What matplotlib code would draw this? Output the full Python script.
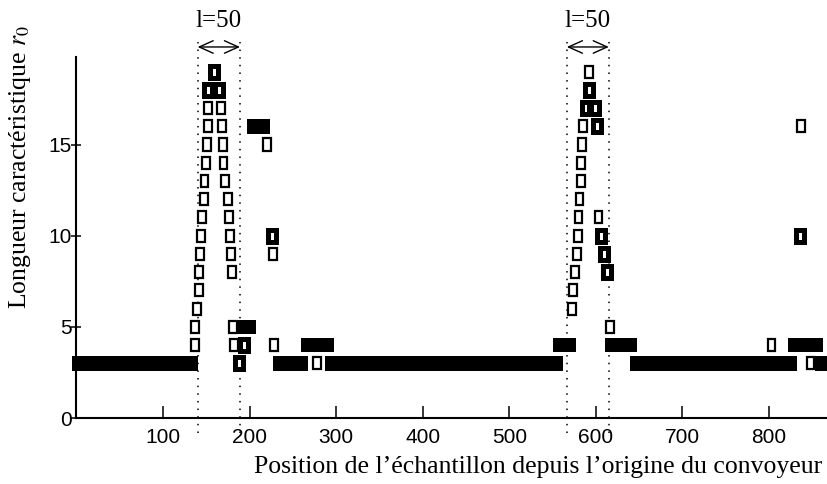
import matplotlib
matplotlib.use('Agg')
import matplotlib.pyplot as plt
from matplotlib import font_manager as fm
import numpy as np

plt.rcParams['mathtext.fontset'] = 'stix'

# filled runs of consecutive samples (r0 level, start, end)
run_r0 = [3, 3, 3, 3, 3, 4, 4, 4, 4, 5, 16]
run_start = [-5, 227, 287, 639, 853, 259, 551, 611, 822, 185, 197]
run_end = [140, 267, 562, 832, 870, 298, 577, 648, 862, 207, 224]

# single open boxes
open_x = [137, 137, 139, 141.6, 141.6, 143, 144, 145, 147, 148, 150, 151, 152, 152,
          179.7, 178.5, 177, 176, 175, 172, 170, 169, 168, 167,
          220, 227, 181, 182, 228, 278,
          572, 574, 575.5, 578, 579, 580, 581, 583, 583, 584, 585, 592.5,
          603, 616, 803, 848, 837]
open_r0 = [4, 5, 6, 7, 8, 9, 10, 11, 12, 13, 14, 15, 16, 17,
           8, 9, 10, 11, 12, 13, 14, 15, 16, 17,
           15, 9, 5, 4, 4, 3,
           6, 7, 8, 9, 10, 11, 12, 13, 14, 15, 16, 19,
           11, 5, 4, 3, 16]

# dark (thick) boxes
dark_x = [152, 165, 159, 226, 193.5, 188, 588, 599, 592, 601, 606, 609, 613, 836]
dark_r0 = [18, 18, 19, 10, 4, 3, 17, 17, 18, 16, 10, 9, 8, 10]

# windows of width l=50
win_left = [140, 566.5]
win_right = [189, 615]
win_label = ['l=50', 'l=50']

xticks = [100, 200, 300, 400, 500, 600, 700, 800]
yticks = [0, 5, 10, 15]

names = {f.name for f in fm.fontManager.ttflist}
tick_font = 'Liberation Sans Narrow' if 'Liberation Sans Narrow' in names else 'Liberation Sans'
serif = 'Liberation Serif'

W, H = 827, 484
fig = plt.figure(figsize=(W / 100, H / 100), dpi=100)
ax = fig.add_axes([76.4 / W, 1 - 418 / H, 1 - 76.4 / W, 361 / H])
ax.set_xlim(0, 867)
ax.set_ylim(0, 19.8)

for s in ['top', 'right']:
    ax.spines[s].set_visible(False)
for s in ['left', 'bottom']:
    ax.spines[s].set_linewidth(1.5)

box_w, box_h, run_h = 9.0, 0.66, 0.8

ax.barh(run_r0, np.array(run_end) - np.array(run_start), left=run_start,
        height=run_h, color='black', linewidth=0, clip_on=False, zorder=3)
ax.bar(open_x, box_h, width=box_w, bottom=np.array(open_r0) - box_h / 2,
       color='white', edgecolor='black', linewidth=1.6, zorder=4)
ax.bar(dark_x, box_h, width=box_w, bottom=np.array(dark_r0) - box_h / 2,
       color='white', edgecolor='black', linewidth=3.6, zorder=4)

for xl, xr, lab in zip(win_left, win_right, win_label):
    for xv in (xl, xr):
        ax.plot([xv, xv], [-0.85, 20.6], ls=(0, (1, 4)), color='black',
                lw=1.1, clip_on=False, zorder=2)
    ax.annotate('', xy=(xr, 20.35), xytext=(xl, 20.35), annotation_clip=False,
                arrowprops=dict(arrowstyle='<->,head_length=10,head_width=4.5',
                                mutation_scale=1, lw=1, color='black',
                                shrinkA=0, shrinkB=0))
    ax.text((xl + xr) / 2, 21.75, lab, ha='center', va='center',
            fontsize=18, family=serif, clip_on=False)

ax.set_xticks(xticks)
ax.set_yticks(yticks)
ax.tick_params(axis='x', direction='in', length=9, width=1.1, pad=7.5, labelsize=15)
ax.tick_params(axis='y', direction='inout', length=7, width=1.1, pad=0, labelsize=15)
for lab in ax.get_xticklabels() + ax.get_yticklabels():
    lab.set_family(tick_font)

fig.text(20 / W, 1 - 167 / H, 'Longueur caractéristique $r_0$', rotation=90,
         ha='center', va='center', fontsize=18.5, family=serif)
fig.text(822 / W, 1 - 467 / H, 'Position de l’échantillon depuis l’origine du convoyeur',
         ha='right', va='center', fontsize=18.5, family=serif)

fig.savefig('out.png', dpi=100)
